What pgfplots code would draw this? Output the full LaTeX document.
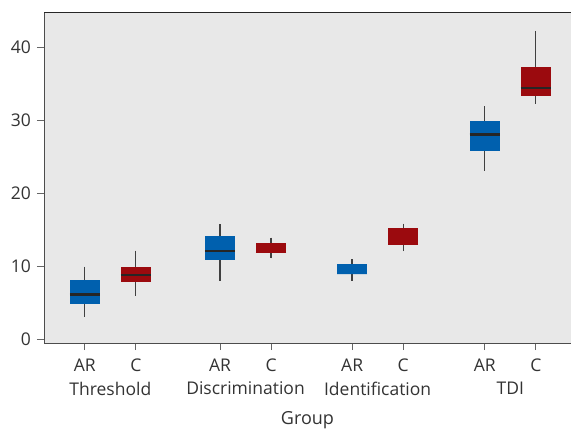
\documentclass[border=0pt]{standalone}
\usepackage{pgfplots}
\pgfplotsset{compat=1.18}
\usepgfplotslibrary{statistics}
\usepackage{fontspec}
\setmainfont{Open Sans}
\definecolor{bgc}{HTML}{E8E8E8}
\definecolor{bluebox}{HTML}{0060AE}
\definecolor{redbox}{HTML}{9B0A0E}
\definecolor{txt}{HTML}{333333}
\begin{document}
\fontsize{17.5pt}{21pt}\selectfont
\begin{tikzpicture}
\begin{axis}[
  scale only axis, width=527pt, height=331pt,
  xmin=-0.80, xmax=9.53, ymin=-0.55, ymax=44.8,
  axis background/.style={fill=bgc},
  axis x line*=bottom, axis y line*=left,
  axis line style={draw=black!70, line width=1pt, -},
  ytick={0,10,20,30,40},
  xtick={0,1,2.65,3.65,5.24,6.24,7.84,8.84},
  xticklabels={AR,C,AR,C,AR,C,AR,C},
  extra x ticks={0.5,3.15,5.74,8.34},
  extra x tick labels={Threshold,Discrimination,Identification,TDI},
  extra x tick style={major tick length=0pt, tick label style={yshift=-30pt}},
  tick style={draw=black!60, line width=0.9pt},
  major tick length=7pt,
  tick align=outside,
  xtick pos=bottom, ytick pos=left,
  tick label style={text=txt, font=\fontsize{17.5pt}{21pt}\selectfont},
  xticklabel style={yshift=-3pt},
  /pgf/number format/assume math mode=true,
  xlabel={Group},
  xlabel style={text=txt, font=\fontsize{18pt}{21pt}\selectfont, yshift=3pt},
  boxplot/draw direction=y,
  boxplot/box extend=0.59,
  boxplot/whisker extend=0,
  boxplot/every whisker/.style={draw=black!75, line width=1.3pt, solid},
  boxplot/every median/.style={draw=black!85, line width=2.4pt, solid},
  boxplot/every box/.style={draw=none},
]
% Threshold
\addplot[boxplot prepared={draw position=0, lower whisker=3.05, lower quartile=4.8, median=6.07, upper quartile=8.1, upper whisker=9.9}, fill=bluebox, draw=bluebox, mark=none] coordinates {};
\addplot[boxplot prepared={draw position=1, lower whisker=5.9, lower quartile=7.85, median=8.77, upper quartile=9.8, upper whisker=12.1}, fill=redbox, draw=redbox, mark=none] coordinates {};
% Discrimination
\addplot[boxplot prepared={draw position=2.65, lower whisker=8.0, lower quartile=10.8, median=12.05, upper quartile=14.1, upper whisker=15.7}, fill=bluebox, draw=bluebox, mark=none] coordinates {};
\addplot[boxplot prepared={draw position=3.65, lower whisker=11.05, lower quartile=11.8, median=11.8, upper quartile=13.15, upper whisker=13.9}, fill=redbox, draw=redbox, mark=none, boxplot/every median/.style={draw=none}] coordinates {};
% Identification
\addplot[boxplot prepared={draw position=5.24, lower whisker=8.0, lower quartile=8.9, median=8.9, upper quartile=10.3, upper whisker=10.9}, fill=bluebox, draw=bluebox, mark=none, boxplot/every median/.style={draw=none}] coordinates {};
\addplot[boxplot prepared={draw position=6.24, lower whisker=12.05, lower quartile=12.9, median=12.9, upper quartile=15.2, upper whisker=15.8}, fill=redbox, draw=redbox, mark=none, boxplot/every median/.style={draw=none}] coordinates {};
% TDI
\addplot[boxplot prepared={draw position=7.84, lower whisker=23.05, lower quartile=25.8, median=28.0, upper quartile=29.9, upper whisker=31.9}, fill=bluebox, draw=bluebox, mark=none] coordinates {};
\addplot[boxplot prepared={draw position=8.84, lower whisker=32.2, lower quartile=33.3, median=34.4, upper quartile=37.3, upper whisker=42.2}, fill=redbox, draw=redbox, mark=none] coordinates {};
\draw[black!85, line width=0.8pt] (rel axis cs:0,1) -- (rel axis cs:1,1);
\end{axis}
\path[use as bounding box] (-44pt,-85pt) rectangle (528pt,343pt);
\end{tikzpicture}
\end{document}
